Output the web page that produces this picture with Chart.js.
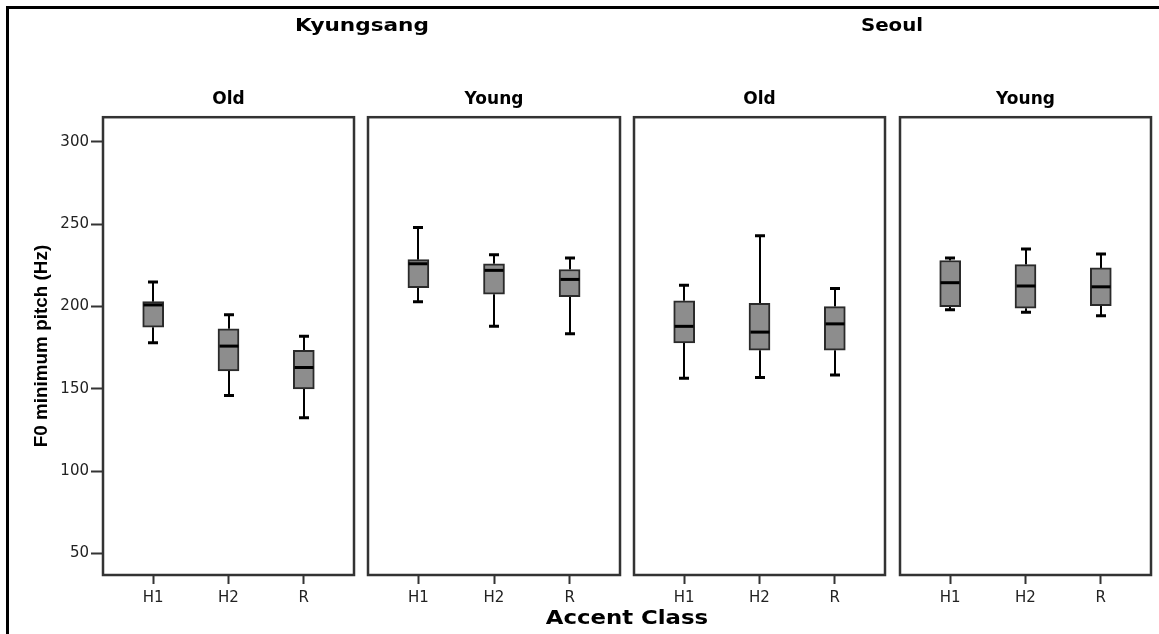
<!DOCTYPE html>
<html>
<head>
<meta charset="utf-8">
<script src="https://cdn.jsdelivr.net/npm/chart.js@4.4.0/dist/chart.umd.min.js"></script>
<style>
html,body{margin:0;padding:0;background:#fff;}
#wrap{position:relative;width:1159px;height:634px;overflow:hidden;background:#fff;}
#frame{position:absolute;left:6px;top:6px;width:1300px;height:800px;border-top:3px solid #000;border-left:3px solid #000;}
canvas{position:absolute;left:0;top:0;}
.lbl{position:absolute;font-family:"DejaVu Sans",sans-serif;font-weight:bold;color:#000;white-space:nowrap;}
</style>
</head>
<body>
<div id="wrap">
  <div id="frame"></div>
  <canvas id="c0" width="1159" height="634"></canvas>
  <canvas id="c1" width="1159" height="634"></canvas>
  <canvas id="c2" width="1159" height="634"></canvas>
  <canvas id="c3" width="1159" height="634"></canvas>
  <div class="lbl" id="g0" style="left:362px;top:24px;font-size:18px;transform:translate(-50%,-50%) scaleX(1.2)"></div>
  <div class="lbl" id="g1" style="left:892px;top:24px;font-size:18px;transform:translate(-50%,-50%) scaleX(1.1)"></div>
  <div class="lbl" id="xt" style="left:627px;top:617px;font-size:19px;transform:translate(-50%,-50%) scaleX(1.2)"></div>
</div>
<script>
// ---- data ----
const categories = ['H1', 'H2', 'R'];
const groupTitles = ['Kyungsang', 'Seoul'];
const panelTitles = ['Old', 'Young', 'Old', 'Young'];
const xAxisTitle = 'Accent Class';
const yAxisTitle = 'F0 minimum pitch (Hz)';
const yTickValues = [50, 100, 150, 200, 250, 300];

// Kyungsang - Old
const kOldLow  = [178, 146, 132.5];
const kOldQ1   = [187.5, 161, 150];
const kOldMed  = [201, 176, 163];
const kOldQ3   = [203, 186.5, 173.5];
const kOldHigh = [215, 195, 182];
// Kyungsang - Young
const kYoungLow  = [203, 188, 183.5];
const kYoungQ1   = [211.5, 207.5, 206];
const kYoungMed  = [226, 222, 216.5];
const kYoungQ3   = [228.5, 226, 222.5];
const kYoungHigh = [248, 231.5, 229.5];
// Seoul - Old
const sOldLow  = [156.5, 157, 158.5];
const sOldQ1   = [178, 173.5, 173.5];
const sOldMed  = [188, 184.5, 189.5];
const sOldQ3   = [203.5, 202, 200];
const sOldHigh = [213, 243, 211];
// Seoul - Young
const sYoungLow  = [198, 196.5, 194.5];
const sYoungQ1   = [200, 199, 200.5];
const sYoungMed  = [214.5, 212.5, 212];
const sYoungQ3   = [228, 225.5, 223.5];
const sYoungHigh = [229.5, 235, 232];

const panelStats = [
  {low: kOldLow, q1: kOldQ1, med: kOldMed, q3: kOldQ3, high: kOldHigh},
  {low: kYoungLow, q1: kYoungQ1, med: kYoungMed, q3: kYoungQ3, high: kYoungHigh},
  {low: sOldLow, q1: sOldQ1, med: sOldMed, q3: sOldQ3, high: sOldHigh},
  {low: sYoungLow, q1: sYoungQ1, med: sYoungMed, q3: sYoungQ3, high: sYoungHigh}
];

// ---- layout ----
const W = 1159;
const panelEdges = [[103, 354], [368, 620], [634, 885], [900, 1151]];
const yMin = 37, yMax = 315;
const topPad = 80;
const boxWidth = 21;

document.getElementById('g0').textContent = groupTitles[0];
document.getElementById('g1').textContent = groupTitles[1];
document.getElementById('xt').textContent = xAxisTitle;

// y-axis title font sized to the reference length
const yTitleFamily = '"Liberation Sans Narrow", "Liberation Sans", Arial, sans-serif';
const mctx = document.createElement('canvas').getContext('2d');
mctx.font = 'bold 20px ' + yTitleFamily;
const yTitleSize = Math.round(20 * 203 / mctx.measureText(yAxisTitle).width * 10) / 10;

function boxPlugin(stats) {
  return {
    id: 'boxExtras',
    beforeDatasetsDraw(chart) {
      const {ctx, scales: {x, y}} = chart;
      ctx.save();
      ctx.strokeStyle = '#000';
      stats.low.forEach((lo, i) => {
        const px = Math.round(x.getPixelForValue(i));
        const yLo = y.getPixelForValue(lo), yHi = y.getPixelForValue(stats.high[i]);
        const yQ1 = y.getPixelForValue(stats.q1[i]), yQ3 = y.getPixelForValue(stats.q3[i]);
        ctx.lineWidth = 2;
        ctx.beginPath();
        ctx.moveTo(px, yHi); ctx.lineTo(px, yQ3);
        ctx.moveTo(px, yQ1); ctx.lineTo(px, yLo);
        ctx.stroke();
        ctx.lineWidth = 3;
        ctx.beginPath();
        ctx.moveTo(px - 5, yHi); ctx.lineTo(px + 5, yHi);
        ctx.moveTo(px - 5, yLo); ctx.lineTo(px + 5, yLo);
        ctx.stroke();
      });
      ctx.restore();
    },
    afterDatasetsDraw(chart) {
      const {ctx, chartArea: a, scales: {x, y}} = chart;
      ctx.save();
      ctx.strokeStyle = '#000';
      ctx.lineWidth = 3;
      stats.med.forEach((m, i) => {
        const px = Math.round(x.getPixelForValue(i));
        const ym = y.getPixelForValue(m);
        ctx.beginPath();
        ctx.moveTo(px - boxWidth / 2 + 1, ym); ctx.lineTo(px + boxWidth / 2 - 1, ym);
        ctx.stroke();
      });
      ctx.strokeStyle = '#333';
      ctx.lineWidth = 2.5;
      ctx.strokeRect(a.left, a.top, a.right - a.left, a.bottom - a.top);
      ctx.restore();
    }
  };
}

const tickFont = {family: '"DejaVu Sans", sans-serif', size: 15};

panelStats.forEach((stats, p) => {
  const [left, right] = panelEdges[p];
  const first = p === 0;
  const padLeft = first ? 20 : left;
  new Chart(document.getElementById('c' + p), {
    type: 'bar',
    data: {
      datasets: [{
        data: categories.map((c, j) => ({x: j, y: [stats.q1[j], stats.q3[j]]})),
        backgroundColor: '#8d8d8d',
        borderColor: '#2a2a2a',
        borderWidth: 2,
        borderSkipped: false,
        barThickness: boxWidth
      }]
    },
    options: {
      responsive: false,
      animation: false,
      devicePixelRatio: 1,
      layout: {padding: {left: padLeft, right: W - right, top: topPad, bottom: 0}},
      plugins: {
        legend: {display: false},
        tooltip: {enabled: false},
        title: {
          display: true,
          fullSize: false,
          text: panelTitles[p],
          color: '#000',
          font: {family: '"DejaVu Sans", sans-serif', size: 17, weight: 'bold', lineHeight: 1.2},
          padding: {top: 9.8, bottom: 7}
        }
      },
      scales: {
        x: {
          type: 'linear',
          min: -2 / 3,
          max: 8 / 3,
          offset: false,
          grid: {offset: false, drawOnChartArea: false, drawTicks: true, tickLength: 9, tickWidth: 2, tickColor: '#333'},
          border: {display: false},
          afterBuildTicks: s => { s.ticks = categories.map((c, j) => ({value: j})); },
          afterFit: s => { s.height = 634 - 575; },
          ticks: {
            callback: v => categories[v],
            font: tickFont,
            color: '#222',
            padding: 5,
            maxRotation: 0,
            autoSkip: false
          }
        },
        y: {
          display: first,
          min: yMin,
          max: yMax,
          afterBuildTicks: s => { s.ticks = yTickValues.map(v => ({value: v})); },
          afterFit: s => { s.width = left - padLeft; },
          grid: {drawOnChartArea: false, drawTicks: true, tickLength: 12, tickWidth: 2, tickColor: '#333'},
          border: {display: false},
          ticks: {font: tickFont, color: '#222', padding: 2},
          title: {
            display: true,
            text: yAxisTitle,
            color: '#000',
            font: {family: yTitleFamily, size: yTitleSize, weight: 'bold', lineHeight: 1},
            padding: {top: 22 - yTitleSize / 2, bottom: 0}
          }
        }
      }
    },
    plugins: [boxPlugin(stats)]
  });
});
</script>
</body>
</html>
